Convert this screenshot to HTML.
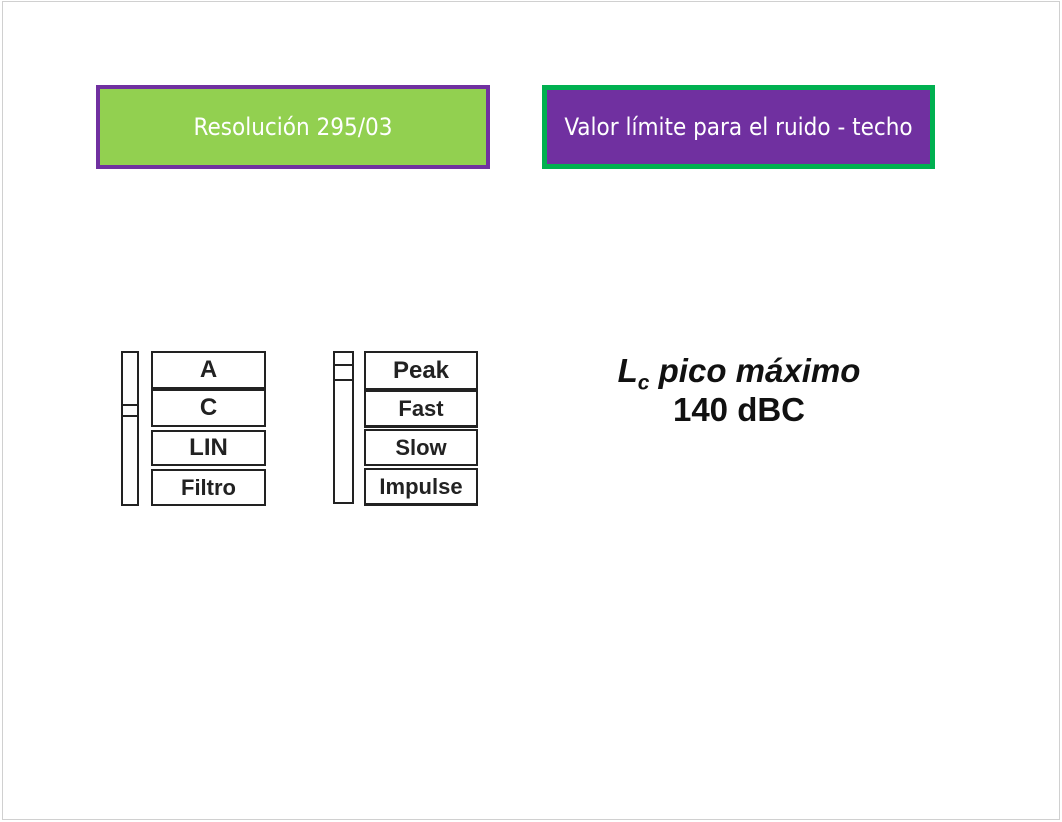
<!DOCTYPE html>
<html><head><meta charset="utf-8"><style>
html,body{margin:0;padding:0;background:#fff;}
body{width:1062px;height:822px;position:relative;overflow:hidden;font-family:"Liberation Sans",Arial,sans-serif;}
.frame{position:absolute;left:2px;top:1px;width:1056px;height:817px;border:1px solid #d0d0d0;}
.box{position:absolute;box-sizing:border-box;display:flex;align-items:center;justify-content:center;color:#fff;font-family:"DejaVu Sans Condensed","Liberation Sans",sans-serif;font-size:24px;}
.b{position:absolute;box-sizing:border-box;border:2px solid #222;background:#fff;display:flex;align-items:center;justify-content:center;font-weight:bold;font-size:24px;color:#222;font-family:"Liberation Sans",Arial,sans-serif;}
.s{position:absolute;box-sizing:border-box;border:2px solid #222;background:#fff;}
.l{position:absolute;height:2px;background:#222;}
.t{position:absolute;left:539px;width:400px;text-align:center;font-weight:bold;font-size:33px;line-height:38px;color:#111;}
</style></head><body>
<div class="frame"></div>
<div class="box" style="left:96px;top:85px;width:394px;height:84px;background:#92d050;border:4px solid #7030a0;">Resolución 295/03</div>
<div class="box" style="left:542px;top:85px;width:393px;height:84px;background:#7030a0;border:5px solid #00b050;">Valor límite para el ruido - techo</div>

<div class="s" style="left:121px;top:351px;width:18px;height:155px;"></div>
<div class="s" style="left:121px;top:404px;width:18px;height:13px;"></div>
<div class="b" style="left:151px;top:351px;width:115px;height:38px;">A</div>
<div class="b" style="left:151px;top:388px;width:115px;height:39px;border-top-width:3px;">C</div>
<div class="b" style="left:151px;top:430px;width:115px;height:36px;">LIN</div>
<div class="b" style="left:151px;top:469px;width:115px;height:37px;font-size:22px;">Filtro</div>

<div class="s" style="left:333px;top:351px;width:21px;height:153px;"></div>
<div class="l" style="left:333px;top:364px;width:21px;"></div>
<div class="l" style="left:333px;top:379px;width:21px;"></div>
<div class="b" style="left:364px;top:351px;width:114px;height:39px;">Peak</div>
<div class="b" style="left:364px;top:389px;width:114px;height:39px;border-top-width:3px;border-bottom-width:3px;font-size:22px;">Fast</div>
<div class="b" style="left:364px;top:429px;width:114px;height:37px;font-size:22px;">Slow</div>
<div class="b" style="left:364px;top:468px;width:114px;height:38px;border-bottom-width:3px;font-size:22px;">Impulse</div>

<div class="t" style="top:352px;font-style:italic;">L<sub style="font-size:21px;">c</sub> pico máximo</div>
<div class="t" style="top:391px;">140 dBC</div>
</body></html>
